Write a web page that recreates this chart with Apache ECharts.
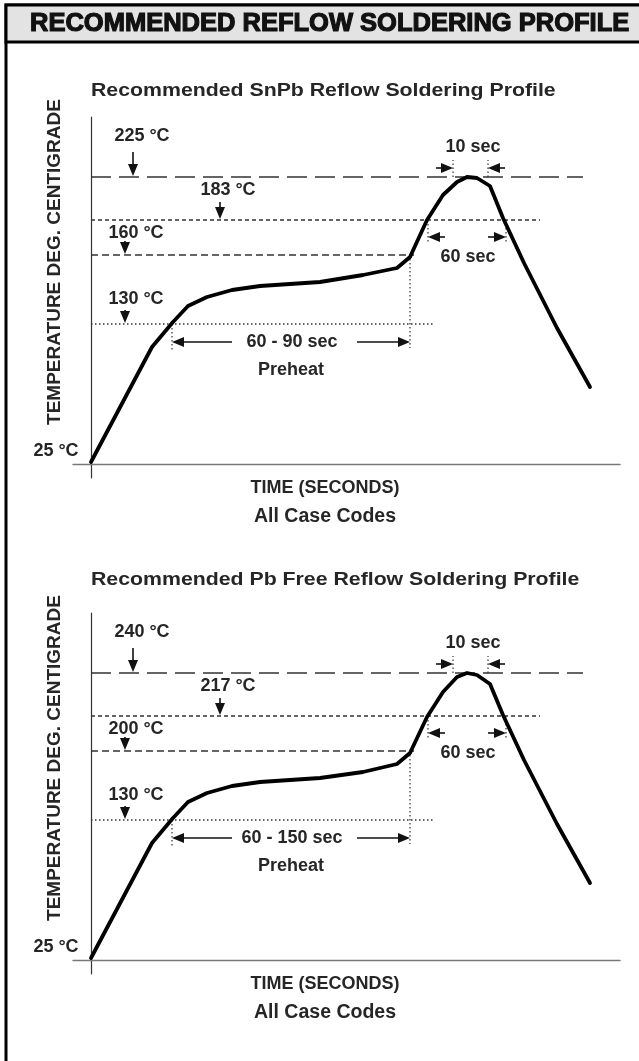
<!DOCTYPE html>
<html>
<head>
<meta charset="utf-8">
<script src="https://cdn.jsdelivr.net/npm/echarts@6/dist/echarts.min.js"></script>
<style>
    html, body { margin: 0; padding: 0; background: #fff; }
    #chart { width: 639px; height: 1061px; }
</style>
</head>
<body>
<div id="chart"></div>
<script>
    // schematic profile (not to scale): time in units from start, height above the time axis
    var profileTime = [0, 30.5, 41, 48.5, 58, 70.5, 84.5, 114.5, 136, 153, 159.5, 168, 176, 183, 188, 193, 199.5, 206, 216.5, 233, 249.5];
    var snPbHeight = [2, 117, 142, 158, 167, 174, 178, 182, 189, 196, 207, 244, 269, 282, 287, 286, 278, 246, 201, 136, 77];
    var pbFreeHeight = [2, 117, 142, 158, 167, 174, 178, 182, 188, 196, 207, 243, 268, 283, 287, 285, 276, 245, 200, 136, 77];

    // guide lines: peak, liquidus, soak top, soak start
    var guideLevels = [287, 244, 209, 140];
    var guideEnds = [246, 224.5, 161.5, 171];
    var snPbTemps = ['225 °C', '183 °C', '160 °C', '130 °C'];
    var pbFreeTemps = ['240 °C', '217 °C', '200 °C', '130 °C'];
    var startTemp = '25 °C';

    // time windows
    var preheatWindow = [40.5, 159.5];
    var liquidusWindow = [168.5, 207.5];
    var peakWindow = [181, 198.5];
    var snPbPreheat = '60 - 90 sec';
    var pbFreePreheat = '60 - 150 sec';
    var liquidusText = '60 sec';
    var peakText = '10 sec';

    var FONT = '"Liberation Sans", Arial, sans-serif';
    var INK = '#262626';
    var dashes = [[20, 8], [4, 3], [7, 4], [1.5, 2.5]];

    function guideSeries(gi, idx) {
        return {
            type: 'line', xAxisIndex: gi, yAxisIndex: gi, silent: true,
            symbol: 'none', animation: false,
            data: [[0, guideLevels[idx]], [guideEnds[idx], guideLevels[idx]]],
            lineStyle: { color: '#333', width: 1.3, type: dashes[idx] }
        };
    }

    function dottedSeries(gi, x, y1, y2) {
        return {
            type: 'line', xAxisIndex: gi, yAxisIndex: gi, silent: true,
            symbol: 'none', animation: false,
            data: [[x, y1], [x, y2]],
            lineStyle: { color: '#333', width: 1.2, type: [1.5, 2.5] }
        };
    }

    // arrows: [tailX, tailY, tipX, tipY]
    function arrowSeries(gi, arrows) {
        return {
            type: 'custom', xAxisIndex: gi, yAxisIndex: gi, silent: true, clip: false,
            animation: false,
            data: arrows,
            renderItem: function (params, api) {
                var a = api.coord([api.value(0), api.value(1)]);
                var b = api.coord([api.value(2), api.value(3)]);
                var dx = b[0] - a[0], dy = b[1] - a[1];
                var len = Math.sqrt(dx * dx + dy * dy);
                var ux = dx / len, uy = dy / len;
                var hl = 12, hw = 5;
                var bx = b[0] - ux * hl, by = b[1] - uy * hl;
                return {
                    type: 'group',
                    children: [{
                        type: 'line',
                        shape: { x1: a[0], y1: a[1], x2: bx, y2: by },
                        style: { stroke: '#111', lineWidth: 1.6 }
                    }, {
                        type: 'polygon',
                        shape: { points: [[b[0], b[1]], [bx - uy * hw, by + ux * hw], [bx + uy * hw, by - ux * hw]] },
                        style: { fill: '#111' }
                    }]
                };
            }
        };
    }

    // text labels placed in data space
    function textSeries(gi, points, texts) {
        return {
            type: 'custom', xAxisIndex: gi, yAxisIndex: gi, silent: true, clip: false,
            animation: false,
            data: points,
            renderItem: function (params, api) {
                var p = api.coord([api.value(0), api.value(1)]);
                return {
                    type: 'text', x: p[0], y: p[1],
                    style: {
                        text: texts[params.dataIndex],
                        font: 'bold 18px ' + FONT,
                        fill: INK, align: 'center', verticalAlign: 'middle'
                    }
                };
            }
        };
    }

    function buildSeries(gi, heights, temps, preheatText) {
        var list = [];
        for (var i = 0; i < guideLevels.length; i++) {
            list.push(guideSeries(gi, i));
        }
        list.push(dottedSeries(gi, preheatWindow[0], guideLevels[3], 114));
        list.push(dottedSeries(gi, preheatWindow[1], guideLevels[2], 116));
        list.push(dottedSeries(gi, peakWindow[0], guideLevels[0], 304));
        list.push(dottedSeries(gi, peakWindow[1], guideLevels[0], 304));
        list.push(dottedSeries(gi, liquidusWindow[0], guideLevels[1], 221));
        list.push(dottedSeries(gi, liquidusWindow[1], guideLevels[1], 221));

        list.push({
            type: 'line', xAxisIndex: gi, yAxisIndex: gi, silent: true,
            symbol: 'none', animation: false,
            data: profileTime.map(function (t, k) { return [t, heights[k]]; }),
            lineStyle: { color: '#000', width: 3.8, join: 'round', cap: 'round' }
        });

        list.push(arrowSeries(gi, [
            [21, 312, 21, guideLevels[0] + 1],
            [64.5, 262, 64.5, guideLevels[1] + 1],
            [17, 223, 17, guideLevels[2] + 1],
            [17, 154, 17, guideLevels[3] + 1],
            [70.5, 122, preheatWindow[0], 122],
            [133, 122, preheatWindow[1], 122],
            [172.5, 296, peakWindow[0], 296],
            [207, 296, peakWindow[1], 296],
            [177, 227, liquidusWindow[0], 227],
            [198.5, 227, liquidusWindow[1], 227]
        ]));

        list.push(textSeries(gi,
            [[25.5, 328], [68.5, 274], [22.5, 231], [22.5, 165], [-17.5, 13],
             [191, 317], [188.5, 207], [100.5, 122], [100, 94]],
            temps.concat([startTemp, peakText, liquidusText, preheatText, 'Preheat'])
        ));
        return list;
    }

    function axisPair(gi) {
        return {
            x: {
                type: 'value', gridIndex: gi, min: -9, max: 264.5,
                axisLine: { show: true, onZero: true, lineStyle: { color: '#777', width: 1.4 } },
                axisTick: { show: false }, axisLabel: { show: false }, splitLine: { show: false }
            },
            y: {
                type: 'value', gridIndex: gi, min: -14, max: 347,
                axisLine: { show: true, onZero: true, lineStyle: { color: '#333', width: 1.2 } },
                axisTick: { show: false }, axisLabel: { show: false }, splitLine: { show: false }
            }
        };
    }

    function titleText(x, y, text, size, align, stretch) {
        return {
            type: 'text', x: x, y: y, silent: true, scaleX: stretch || 1,
            style: {
                text: text, font: 'bold ' + size + 'px ' + FONT, fill: INK,
                align: align || 'center', verticalAlign: 'middle'
            }
        };
    }

    function yName(x, y) {
        return {
            type: 'text', x: x, y: y, rotation: Math.PI / 2, silent: true,
            style: {
                text: 'TEMPERATURE DEG. CENTIGRADE', font: 'bold 19px ' + FONT, fill: INK,
                align: 'center', verticalAlign: 'middle'
            }
        };
    }

    var upperAxes = axisPair(0), lowerAxes = axisPair(1);
    var chart = echarts.init(document.getElementById('chart'), null, { renderer: 'canvas' });

    chart.setOption({
        animation: false,
        backgroundColor: '#fff',
        grid: [
            { left: 73, top: 117, width: 547, height: 361, containLabel: false, outerBoundsMode: 'none' },
            { left: 73, top: 613, width: 547, height: 361, containLabel: false, outerBoundsMode: 'none' }
        ],
        xAxis: [upperAxes.x, lowerAxes.x],
        yAxis: [upperAxes.y, lowerAxes.y],
        graphic: [
            { type: 'rect', z: -10, silent: true, shape: { x: 6, y: 5, width: 700, height: 1100 },
              style: { fill: 'none', stroke: '#000', lineWidth: 3 } },
            { type: 'rect', z: -9, silent: true, shape: { x: 6, y: 5, width: 700, height: 37 },
              style: { fill: '#e3e3e3', stroke: '#000', lineWidth: 3 } },
            {
                type: 'text', x: 30, y: 24, silent: true,
                style: {
                    text: 'RECOMMENDED REFLOW SOLDERING PROFILE', font: 'bold 25.5px ' + FONT,
                    fill: '#111', stroke: '#111', lineWidth: 1.2, align: 'left', verticalAlign: 'middle'
                }
            },
            titleText(91, 91, 'Recommended SnPb Reflow Soldering Profile', 19, 'left', 1.12),
            titleText(91, 580, 'Recommended Pb Free Reflow Soldering Profile', 19, 'left', 1.12),
            yName(55, 262),
            yName(55, 758),
            titleText(325, 488, 'TIME (SECONDS)', 18),
            titleText(325, 517, 'All Case Codes', 19.5),
            titleText(325, 984, 'TIME (SECONDS)', 18),
            titleText(325, 1013, 'All Case Codes', 19.5)
        ],
        series: buildSeries(0, snPbHeight, snPbTemps, snPbPreheat)
            .concat(buildSeries(1, pbFreeHeight, pbFreeTemps, pbFreePreheat))
    });
</script>
</body>
</html>
